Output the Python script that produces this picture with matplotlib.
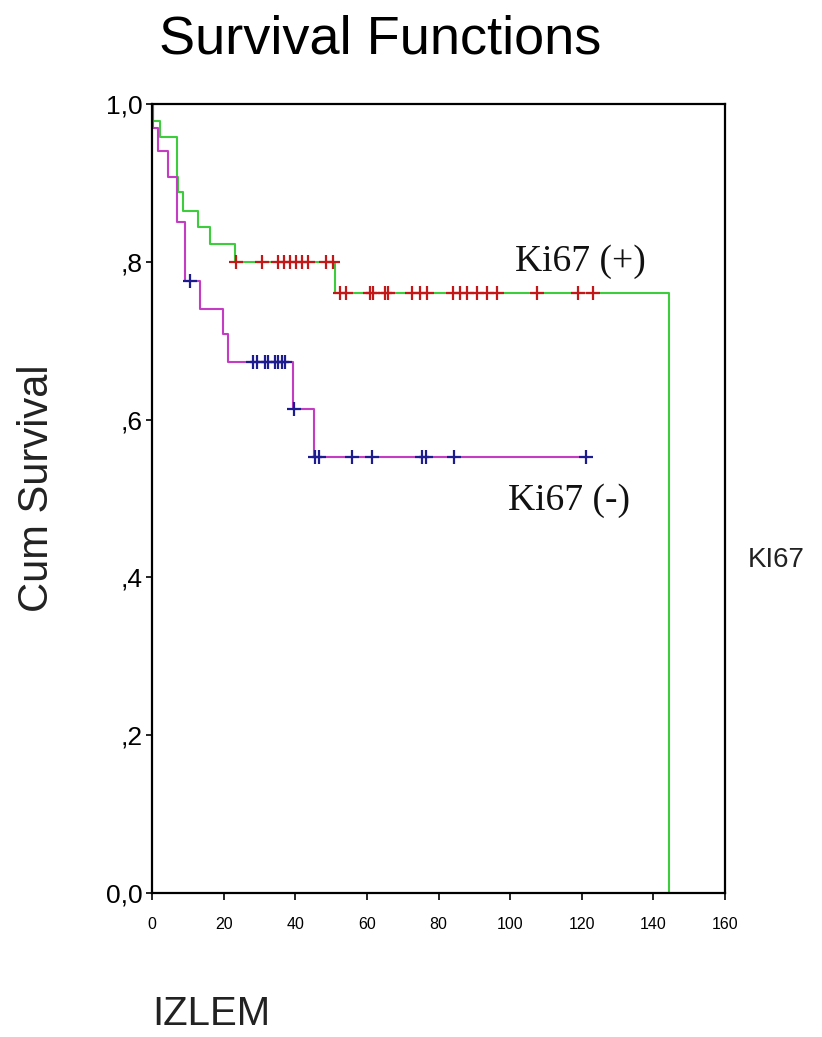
import numpy as np
import matplotlib
matplotlib.use("Agg")
import matplotlib.pyplot as plt

# Ki67 (+) group: step times and survival after each step
pos_times = [0, 0.3, 2.2, 6.9, 7.3, 8.7, 12.9, 16.2, 23.2, 51.2, 144.4]
pos_surv = [1.0, 0.979, 0.958, 0.907, 0.888, 0.865, 0.844, 0.822, 0.800, 0.760, 0.0]
pos_censored = [23.5, 30.7, 35.2, 36.9, 38.5, 40.2, 41.9, 43.6, 48.6, 50.6,
                52.6, 54.2, 60.9, 61.7, 65.1, 65.9, 72.6, 74.9, 76.8, 84.1,
                86.0, 88.0, 90.8, 93.6, 96.4, 107.5, 119.0, 123.2]

# Ki67 (-) group
neg_times = [0, 0.3, 1.8, 4.6, 6.9, 9.2, 13.4, 19.8, 21.2, 39.4, 45.1, 121.2]
neg_surv = [1.0, 0.970, 0.940, 0.907, 0.850, 0.776, 0.740, 0.708, 0.673, 0.613, 0.552, 0.552]
neg_censored = [10.6, 28.3, 29.2, 31.6, 32.5, 34.4, 35.3, 36.2, 37.2, 39.6,
                45.5, 46.5, 55.9, 61.5, 75.4, 76.5, 84.4, 121.2]

x_ticks = [0, 20, 40, 60, 80, 100, 120, 140, 160]
y_ticks = [0.0, 0.2, 0.4, 0.6, 0.8, 1.0]
y_labels = ["0,0", ",2", ",4", ",6", ",8", "1,0"]


def step_value(times, surv, t):
    # survival value of a right-continuous step function at time t
    idx = np.searchsorted(times, t, side="right") - 1
    return np.asarray(surv)[idx]


W, H = 822, 1037
fig = plt.figure(figsize=(W / 100, H / 100), dpi=100)
plt.rcParams["font.family"] = ["Liberation Sans", "DejaVu Sans"]

ax = fig.add_axes([152 / W, 1 - 893 / H, (725 - 152) / W, (893 - 104) / H])

green = "#3ccc3c"
magenta = "#c43cc4"
red = "#c41818"
blue = "#1c1c90"

ax.step(pos_times, pos_surv, where="post", color=green, lw=1.5, zorder=2)
ax.step(neg_times, neg_surv, where="post", color=magenta, lw=1.5, zorder=2)

ax.plot(pos_censored, step_value(pos_times, pos_surv, pos_censored),
        ls="none", marker="+", ms=10, mew=1.6, color=red, zorder=3)
ax.plot(neg_censored, step_value(neg_times, neg_surv, neg_censored),
        ls="none", marker="+", ms=10, mew=1.6, color=blue, zorder=3)

ax.text(101.5, 0.788, "Ki67 (+)", family=["Liberation Serif", "DejaVu Serif"],
        fontsize=27, color="#111111")
ax.text(99.5, 0.486, "Ki67 (-)", family=["Liberation Serif", "DejaVu Serif"],
        fontsize=27, color="#111111")

ax.set_xlim(0, 160)
ax.set_ylim(0, 1.0)
ax.set_xticks(x_ticks)
ax.set_xticklabels([str(v) for v in x_ticks], fontsize=11.5)
ax.set_yticks(y_ticks)
ax.set_yticklabels(y_labels, fontsize=19)
ax.tick_params(axis="x", direction="out", length=5, width=1.2, pad=12)
ax.tick_params(axis="y", direction="out", length=4, width=1.2, pad=3)
for s in ax.spines.values():
    s.set_linewidth(1.6)
    s.set_color("black")

fig.text(380 / W, 1 - 53 / H, "Survival Functions", fontsize=39,
         ha="center", va="baseline")
fig.text(48 / W, 1 - 488 / H, "Cum Survival", fontsize=30, rotation=90,
         rotation_mode="anchor", ha="center", va="baseline", color="#222222")
fig.text(152 / W, 1 - 1025 / H, "IZLEM", fontsize=29, ha="left",
         va="baseline", color="#222222")
fig.text(748 / W, 1 - 567 / H, "KI67", fontsize=20, ha="left",
         va="baseline", color="#222222")

fig.savefig("out.png", dpi=100)
